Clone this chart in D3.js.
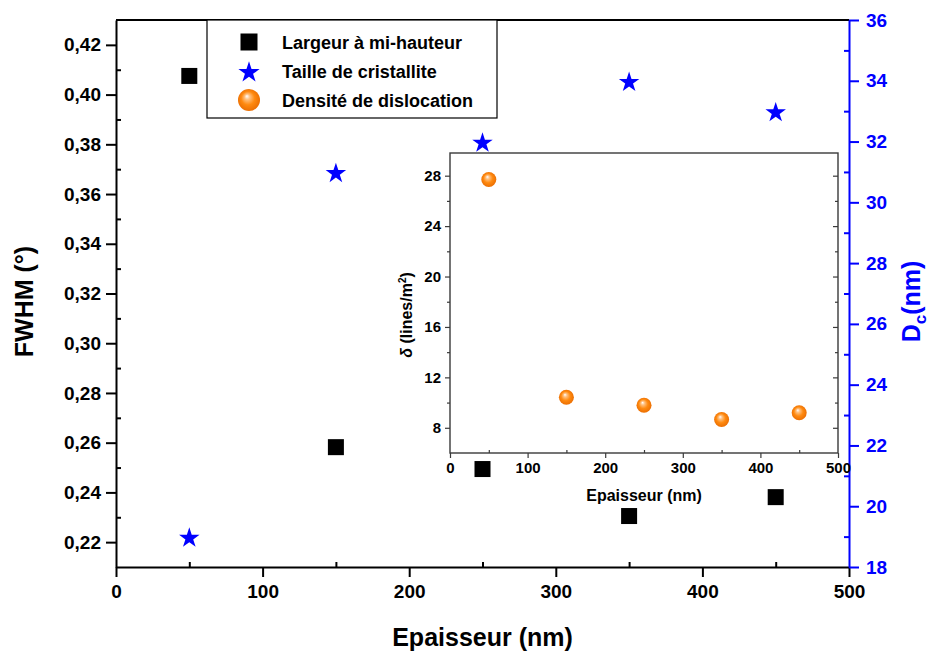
<!DOCTYPE html>
<html><head><meta charset="utf-8">
<script src="https://cdn.jsdelivr.net/npm/d3@7"></script>
<style>
html,body{margin:0;padding:0;background:#fff;}
svg{display:block;font-family:"Liberation Sans",Arial,sans-serif;font-weight:bold;}
</style></head>
<body>
<script>
// ---- data ----
const thickness = [50, 150, 250, 350, 450];
const fwhm = [0.4075, 0.2582, 0.2494, 0.2305, 0.2381];
const crystalSize = [19, 31, 32, 34, 33];
const dislocation = [27.7, 10.42, 9.79, 8.66, 9.19];
const xTicks = [0, 100, 200, 300, 400, 500];
const leftTicks = [0.22, 0.24, 0.26, 0.28, 0.30, 0.32, 0.34, 0.36, 0.38, 0.40, 0.42];
const rightTicks = [18, 20, 22, 24, 26, 28, 30, 32, 34, 36];
const insetYTicks = [8, 12, 16, 20, 24, 28];
const legendLabels = ["Largeur à mi-hauteur", "Taille de cristallite", "Densité de dislocation"];

const W = 932, H = 651;
const svg = d3.select("body").append("svg").attr("width", W).attr("height", H);

const defs = svg.append("defs");
const grad = defs.append("radialGradient").attr("id", "ball").attr("cx", "50%").attr("cy", "50%").attr("r", "55%").attr("fx", "40%").attr("fy", "32%");
grad.append("stop").attr("offset", "0%").attr("stop-color", "#ffffff");
grad.append("stop").attr("offset", "22%").attr("stop-color", "#ffc080");
grad.append("stop").attr("offset", "55%").attr("stop-color", "#ff8a10");
grad.append("stop").attr("offset", "100%").attr("stop-color", "#e86a00");

// ---- main scales ----
const L = 116, R = 849, T = 20, B = 567;
const x = d3.scaleLinear().domain([0, 500]).range([L, R]);
const yL = d3.scaleLinear().domain([0.21, 0.43]).range([B, T]);
const yR = d3.scaleLinear().domain([18, 36]).range([B, T]);
const blue = "#0000ff";
const fmtComma = d => d3.format(".2f")(d).replace(".", ",");

// top frame line
svg.append("line").attr("x1", L).attr("x2", R).attr("y1", T).attr("y2", T).attr("stroke", "#000").attr("stroke-width", 2);

// bottom axis
const gx = svg.append("g").attr("transform", `translate(0,${B})`)
  .call(d3.axisBottom(x).tickValues(xTicks).tickSize(10).tickPadding(8).tickSizeOuter(0));
gx.select(".domain").attr("stroke-width", 2);
gx.selectAll(".tick line").attr("stroke-width", 2);
gx.selectAll(".tick text").attr("font-size", 19).attr("font-family", "Liberation Sans").attr("font-weight", "bold");
svg.append("g").attr("transform", `translate(0,${B})`)
  .call(d3.axisTop(x).tickValues([50,150,250,350,450]).tickSize(5).tickFormat("").tickSizeOuter(0))
  .call(g => { g.select(".domain").remove(); g.selectAll("line").attr("stroke-width", 2); });

// left axis
const gl = svg.append("g").attr("transform", `translate(${L},0)`)
  .call(d3.axisLeft(yL).tickValues(leftTicks).tickSize(10).tickPadding(5).tickFormat(fmtComma).tickSizeOuter(0));
gl.select(".domain").attr("stroke-width", 2);
gl.selectAll(".tick line").attr("stroke-width", 2);
gl.selectAll(".tick text").attr("font-size", 19).attr("font-family", "Liberation Sans").attr("font-weight", "bold");
svg.append("g").attr("transform", `translate(${L},0)`)
  .call(d3.axisRight(yL).tickValues(d3.range(0.23, 0.42, 0.02)).tickSize(5).tickFormat("").tickSizeOuter(0))
  .call(g => { g.select(".domain").remove(); g.selectAll("line").attr("stroke-width", 2); });

// right axis (blue)
const gr = svg.append("g").attr("transform", `translate(${R},0)`)
  .call(d3.axisRight(yR).tickValues(rightTicks).tickSize(10).tickPadding(7).tickSizeOuter(0));
gr.select(".domain").attr("stroke", blue).attr("stroke-width", 2);
gr.selectAll(".tick line").attr("stroke", blue).attr("stroke-width", 2);
gr.selectAll(".tick text").attr("fill", blue).attr("font-size", 19).attr("font-family", "Liberation Sans").attr("font-weight", "bold");
svg.append("g").attr("transform", `translate(${R},0)`)
  .call(d3.axisLeft(yR).tickValues(d3.range(19, 36, 2)).tickSize(5).tickFormat("").tickSizeOuter(0))
  .call(g => { g.select(".domain").remove(); g.selectAll("line").attr("stroke", blue).attr("stroke-width", 2); });

// axis titles
svg.append("text").attr("x", (L + R) / 2).attr("y", 646).attr("text-anchor", "middle").attr("font-size", 25).text("Epaisseur (nm)");
svg.append("text").attr("transform", `translate(33,${(T + B) / 2 + 8}) rotate(-90)`).attr("text-anchor", "middle").attr("font-size", 25).text("FWHM (°)");
const rt = svg.append("text").attr("transform", `translate(920,${(T + B) / 2 + 8}) rotate(-90)`).attr("text-anchor", "middle").attr("font-size", 25).attr("fill", blue);
rt.append("tspan").text("D");
rt.append("tspan").attr("font-size", 17).attr("dy", 6).text("c");
rt.append("tspan").attr("dy", -6).text("(nm)");

// ---- inset ----
const iL = 450, iR = 838, iT = 153, iB = 453;
const ix = d3.scaleLinear().domain([0, 500]).range([iL, iR]);
const iy = d3.scaleLinear().domain([6, 29.8]).range([iB, iT]);
const gray = "#3a3a3a";
const ia = svg.append("g");
ia.append("rect").attr("x", iL).attr("y", iT).attr("width", iR - iL).attr("height", iB - iT).attr("fill", "none").attr("stroke", gray).attr("stroke-width", 1.4);
const ixg = ia.append("g").attr("transform", `translate(0,${iB})`)
  .call(d3.axisBottom(ix).tickValues(xTicks).tickSize(5).tickPadding(4).tickSizeOuter(0));
ixg.select(".domain").remove();
ixg.selectAll(".tick line").attr("stroke", gray).attr("stroke-width", 1.2);
ixg.selectAll(".tick text").attr("font-size", 15).attr("font-family", "Liberation Sans").attr("font-weight", "bold");
ia.append("g").attr("transform", `translate(0,${iB})`)
  .call(d3.axisTop(ix).tickValues([50,150,250,350,450]).tickSize(3).tickFormat("").tickSizeOuter(0))
  .call(g => { g.select(".domain").remove(); g.selectAll("line").attr("stroke", gray).attr("stroke-width", 1.2); });
const iyg = ia.append("g").attr("transform", `translate(${iL},0)`)
  .call(d3.axisLeft(iy).tickValues(insetYTicks).tickSize(5).tickPadding(4).tickSizeOuter(0));
iyg.select(".domain").remove();
iyg.selectAll(".tick line").attr("stroke", gray).attr("stroke-width", 1.2);
iyg.selectAll(".tick text").attr("font-size", 15).attr("font-family", "Liberation Sans").attr("font-weight", "bold");
ia.append("g").attr("transform", `translate(${iL},0)`)
  .call(d3.axisLeft(iy).tickValues([10,14,18,22,26]).tickSize(3).tickFormat("").tickSizeOuter(0))
  .call(g => { g.select(".domain").remove(); g.selectAll("line").attr("stroke", gray).attr("stroke-width", 1.2); });
ia.append("g").attr("transform", `translate(${iR},0)`)
  .call(d3.axisLeft(iy).tickValues(insetYTicks).tickSize(5).tickFormat("").tickSizeOuter(0))
  .call(g => { g.select(".domain").remove(); g.selectAll("line").attr("stroke", gray).attr("stroke-width", 1.2); });
ia.append("g").attr("transform", `translate(${iR},0)`)
  .call(d3.axisLeft(iy).tickValues([10,14,18,22,26]).tickSize(3).tickFormat("").tickSizeOuter(0))
  .call(g => { g.select(".domain").remove(); g.selectAll("line").attr("stroke", gray).attr("stroke-width", 1.2); });
ia.append("text").attr("x", (iL + iR) / 2).attr("y", 501).attr("text-anchor", "middle").attr("font-size", 16).text("Epaisseur (nm)");
const iyt = ia.append("text").attr("transform", `translate(412,${(iT + iB) / 2 + 12}) rotate(-90)`).attr("text-anchor", "middle").attr("font-size", 16);
iyt.append("tspan").attr("font-style", "italic").text("δ");
iyt.append("tspan").text(" (lines/m");
iyt.append("tspan").attr("font-size", 10).attr("dy", -6).text("2");
iyt.append("tspan").attr("dy", 6).text(")");

ia.selectAll("circle.ball").data(thickness).join("circle").attr("class", "ball")
  .attr("cx", d => ix(d)).attr("cy", (d, i) => iy(dislocation[i])).attr("r", 7.5).attr("fill", "url(#ball)");

// ---- main markers ----
const sq = 16;
svg.selectAll("rect.sq").data(thickness).join("rect").attr("class", "sq")
  .attr("x", d => x(d) - sq / 2).attr("y", (d, i) => yL(fwhm[i]) - sq / 2).attr("width", sq).attr("height", sq).attr("fill", "#000");
const star = d3.symbol(d3.symbolStar, 130);
svg.selectAll("path.star").data(thickness).join("path").attr("class", "star")
  .attr("d", star).attr("transform", (d, i) => `translate(${x(d)},${yR(crystalSize[i]) + 1.5})`).attr("fill", blue);

// ---- legend ----
const lg = svg.append("g");
lg.append("rect").attr("x", 207).attr("y", 20).attr("width", 290).attr("height", 98).attr("fill", "#fff").attr("stroke", "#000").attr("stroke-width", 1.2);
const ly = d3.scalePoint().domain(legendLabels).range([42, 100]);
lg.append("rect").attr("x", 249 - 8.5).attr("y", ly(legendLabels[0]) - 8.5).attr("width", 17).attr("height", 17).attr("fill", "#000");
lg.append("path").attr("d", d3.symbol(d3.symbolStar, 140)).attr("transform", `translate(249,${ly(legendLabels[1]) + 1.5})`).attr("fill", blue);
lg.append("circle").attr("cx", 249).attr("cy", ly(legendLabels[2])).attr("r", 11).attr("fill", "url(#ball)");
lg.selectAll("text").data(legendLabels).join("text").attr("x", 282).attr("y", d => ly(d) + 6.5).attr("font-size", 18).text(d => d);
</script>
</body></html>
